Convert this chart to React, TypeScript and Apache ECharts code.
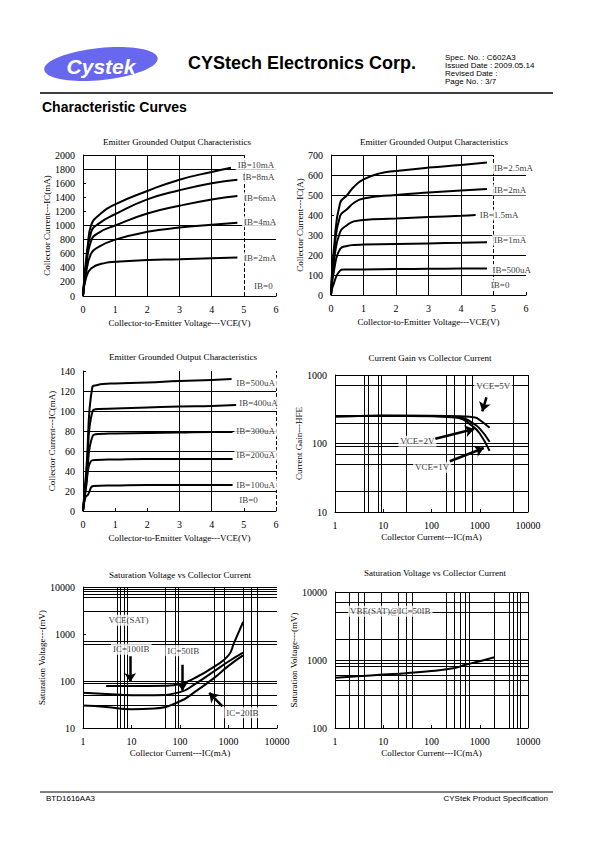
import React, { useEffect, useRef } from "react";
import * as echarts from "echarts";

const SERIF = "'Liberation Serif', 'Times New Roman', serif";
const SANS = "'Liberation Sans', Arial, sans-serif";

// ---------- Chart 1: IC(mA) vs VCE, IB = 2..10 mA ----------
const c1IB10 = [[0, 0], [0.05, 300], [0.15, 720], [0.25, 1000], [0.5, 1150], [1, 1300], [2, 1490], [3, 1650], [4, 1760], [4.6, 1820]];
const c1IB8 = [[0, 0], [0.08, 380], [0.25, 900], [0.5, 1030], [1, 1160], [2, 1370], [3, 1500], [4, 1600], [4.8, 1650]];
const c1IB6 = [[0, 0], [0.08, 330], [0.25, 780], [0.5, 900], [1, 1000], [2, 1170], [3, 1280], [4, 1370], [4.8, 1420]];
const c1IB4 = [[0, 0], [0.08, 280], [0.25, 600], [0.5, 700], [1, 800], [2, 910], [3, 970], [4, 1010], [4.8, 1040]];
const c1IB2 = [[0, 0], [0.08, 230], [0.25, 390], [0.7, 470], [1, 485], [2, 510], [3, 520], [4, 535], [4.8, 545]];
const c1Labels: [string, number, number][] = [
  ["IB=10mA", 4.73, 1858], ["IB=8mA", 4.88, 1693], ["IB=6mA", 4.93, 1395],
  ["IB=4mA", 4.93, 1054], ["IB=2mA", 4.93, 544], ["IB=0", 5.24, 142],
];

// ---------- Chart 2: IC vs VCE, IB = 0.5..2.5 mA ----------
const c2IB25 = [[0, 0], [0.1, 250], [0.28, 460], [0.5, 500], [0.7, 540], [1, 578], [1.5, 608], [2, 620], [3, 637], [4, 650], [4.8, 662]];
const c2IB20 = [[0, 0], [0.1, 220], [0.28, 395], [0.5, 430], [0.7, 460], [1, 483], [2, 500], [3, 512], [4, 522], [4.8, 530]];
const c2IB15 = [[0, 0], [0.1, 180], [0.28, 315], [0.5, 350], [0.7, 368], [1, 375], [2, 382], [3, 390], [4, 396], [4.45, 400]];
const c2IB10 = [[0, 0], [0.1, 130], [0.28, 230], [0.5, 245], [0.7, 250], [1, 252], [2, 255], [3, 258], [4, 261], [4.8, 264]];
const c2IB05 = [[0, 0], [0.05, 40], [0.28, 122], [0.4, 127], [1, 128], [2, 130], [3, 131], [4, 132], [4.8, 133]];
const c2Labels: [string, number, number][] = [
  ["IB=2.5mA", 4.94, 633], ["IB=2mA", 4.94, 525], ["IB=1.5mA", 4.5, 400],
  ["IB=1mA", 4.94, 275], ["IB=500uA", 4.89, 127], ["IB=0", 4.84, 50],
];

// ---------- Chart 3: IC(mA) vs VCE, IB = 100..500 uA ----------
const c3IB500 = [[0, 0], [0.1, 40], [0.29, 124], [0.45, 126], [0.62, 127], [1, 127.5], [2, 128.5], [3, 130], [4, 131], [4.62, 132]];
const c3IB400 = [[0, 0], [0.1, 35], [0.3, 100], [0.5, 102], [1, 102.5], [2, 103.5], [3, 104.5], [4, 105], [4.76, 106]];
const c3IB300 = [[0, 0], [0.1, 28], [0.3, 75], [0.5, 77], [1, 77.5], [2, 78], [3, 78.5], [4, 79], [4.65, 79]];
const c3IB200 = [[0, 0], [0.08, 20], [0.25, 50], [0.4, 51], [1, 51.5], [2, 52], [3, 52], [4, 52], [4.65, 52]];
const c3IB100 = [[0, 0], [0.08, 14], [0.15, 16], [0.33, 25], [1, 25.5], [2, 26], [3, 26], [4, 26], [4.65, 26]];
const c3Labels: [string, number, number][] = [
  ["IB=500uA", 4.69, 128], ["IB=400uA", 4.78, 108], ["IB=300uA", 4.69, 80],
  ["IB=200uA", 4.69, 56], ["IB=100uA", 4.69, 26.5], ["IB=0", 4.78, 11],
];

// ---------- Chart 4: hFE vs IC ----------
const c4VCE5 = [[1, 250], [10, 255], [100, 255], [400, 250], [800, 240], [1000, 220], [1600, 170]];
const c4VCE2 = [[1, 250], [10, 255], [100, 253], [400, 240], [700, 200], [1000, 165], [1600, 106]];
const c4VCE1 = [[1, 248], [10, 255], [100, 250], [350, 238], [700, 180], [1000, 140], [1600, 78]];
const c4Labels: [string, number, number][] = [["VCE=5V", 1900, 700], ["VCE=2V", 51, 108], ["VCE=1V", 103, 45]];
const c4Arrows = [
  [[1377, 472], [1128, 295]],
  [[120, 117], [764, 163]],
  [[240, 55], [1216, 86]],
];

// ---------- Chart 5: VCE(SAT) vs IC ----------
const c5IC100 = [[3, 78], [10, 78], [50, 79], [100, 86], [200, 115], [500, 200], [1000, 350], [1300, 650], [2000, 1800]];
const c5IC50 = [[1, 56], [3, 53], [10, 50], [30, 50], [100, 58], [200, 85], [500, 160], [1000, 260], [2000, 400]];
const c5IC20 = [[1, 30], [3, 28], [10, 25], [30, 26], [100, 37], [200, 58], [500, 115], [1000, 210], [2000, 350]];
const c5Labels: [string, number, number][] = [["VCE(SAT)", 8.7, 1970], ["IC=100IB", 9.9, 472], ["IC=50IB", 117, 440], ["IC=20IB", 1930, 21]];
const c5Arrows = [
  [[9.4, 335], [9.4, 95]],
  [[112, 222], [112, 62]],
  [[750, 29], [400, 56]],
];

// ---------- Chart 6: VBE(SAT) vs IC ----------
const c6VBE = [[1, 550], [3, 575], [10, 610], [30, 640], [100, 690], [300, 760], [500, 850], [1000, 960], [2000, 1100]];
const c6Labels: [string, number, number][] = [["VBE(SAT)@IC=50IB", 14, 5200]];

// ---------- grid lines (values) ----------
const c1GridX = [1, 2, 3, 4];
const c1GridY = [800, 1000, 1800];
const c2GridX = [1, 2, 3, 4];
const c2GridY = [100, 200, 300, 500, 600];
const c3GridX = [3, 4];
const c3GridY = [20, 40, 60, 80, 100, 120];
const c4GridX = [4, 5, 8, 9, 30, 200, 300, 500, 700, 5000, 10000];
const c4GridY = [20, 50, 70, 90, 100, 200, 700, 1000];
const c5GridX = [5, 6, 7, 8, 50, 80, 90, 500, 800, 2000, 3000, 4000];
const c5GridY = [30, 50, 90, 100, 600, 700, 3000, 6000, 7000, 8000, 9000, 10000];
const c6GridX = [2, 3, 4, 9, 20, 30, 40, 200, 300, 400, 500, 600, 2000, 4000, 5000, 6000, 7000, 10000];
const c6GridY = [300, 500, 600, 800, 900, 1000, 2000, 5000, 7000, 10000];

const grids = [
  { left: 83, top: 155, width: 193, height: 141 },
  { left: 331, top: 155, width: 195, height: 140 },
  { left: 83, top: 371, width: 193, height: 140 },
  { left: 335, top: 375, width: 193, height: 137 },
  { left: 83, top: 587, width: 194, height: 141 },
  { left: 335, top: 592, width: 193, height: 136 },
];

const titles = [
  ["Emitter Grounded Output Characteristics", 177, 142],
  ["Emitter Grounded Output Characteristics", 434, 142],
  ["Emitter Grounded Output Characteristics", 183, 357],
  ["Current Gain vs Collector Current", 430, 358],
  ["Saturation Voltage vs Collector Current", 180, 575],
  ["Saturation Voltage vs Collector Current", 435, 573],
];

const txt = { color: "#000", fontFamily: SERIF };

function linX(i: number, name: string) {
  return {
    type: "value", gridIndex: i, min: 0, max: 6, interval: 1,
    name, nameLocation: "middle", nameGap: 22,
    nameTextStyle: { ...txt, fontSize: 9 },
    axisLine: { show: true, onZero: false, lineStyle: { color: "#000", width: 1 } },
    axisTick: { show: true, inside: true, length: 3, lineStyle: { color: "#000" } },
    axisLabel: { ...txt, fontSize: 10, margin: 8, formatter: (v: number) => String(v) },
    splitLine: { show: false },
  };
}
function linY(i: number, max: number, interval: number, name: string, gap: number) {
  return {
    type: "value", gridIndex: i, min: 0, max, interval,
    name, nameLocation: "middle", nameGap: gap,
    nameTextStyle: { ...txt, fontSize: 9 },
    axisLine: { show: true, onZero: false, lineStyle: { color: "#000", width: 1 } },
    axisTick: { show: true, inside: true, length: 3, lineStyle: { color: "#000" } },
    axisLabel: { ...txt, fontSize: 10, margin: 8, formatter: (v: number) => String(v) },
    splitLine: { show: false },
  };
}
function logAxis(i: number, min: number, max: number, name: string, gap: number) {
  return {
    type: "log", logBase: 10, gridIndex: i, min, max,
    name, nameLocation: "middle", nameGap: gap,
    nameTextStyle: { ...txt, fontSize: 9 },
    axisLine: { show: true, onZero: false, lineStyle: { color: "#000", width: 1 } },
    axisTick: { show: true, inside: true, length: 3, lineStyle: { color: "#000" } },
    axisLabel: { ...txt, fontSize: 10, margin: 8, formatter: (v: number) => String(Math.round(v)) },
    splitLine: { show: false },
    minorTick: { show: false },
  };
}

function gridLines(xs: number[], ys: number[], extra: any[] = []) {
  return {
    silent: true, symbol: ["none", "none"], label: { show: false },
    lineStyle: { color: "#000", width: 1, type: "solid" },
    emphasis: { disabled: true },
    animation: false,
    data: [...xs.map((v) => ({ xAxis: v })), ...ys.map((v) => ({ yAxis: v })), ...extra],
  };
}

function curve(i: number, data: number[][], markLine?: any) {
  const s: any = {
    type: "line", xAxisIndex: i, yAxisIndex: i, data, symbol: "none", showSymbol: false,
    smooth: 0.5, silent: true, z: 3,
    lineStyle: { color: "#000", width: 2 },
  };
  if (markLine) s.markLine = markLine;
  return s;
}

function labels(i: number, items: [string, number, number][], pos: string) {
  return {
    type: "scatter", xAxisIndex: i, yAxisIndex: i, symbolSize: 1, silent: true, z: 5,
    itemStyle: { color: "rgba(0,0,0,0)" },
    data: items.map(([t, x, y]) => ({ value: [x, y], name: t })),
    label: {
      show: true, position: pos, distance: 0, formatter: "{b}",
      ...txt, fontSize: 9, backgroundColor: "#fff", padding: [1, 2],
    },
  };
}

function arrows(i: number, items: number[][][]) {
  return {
    type: "lines", coordinateSystem: "cartesian2d", xAxisIndex: i, yAxisIndex: i,
    symbol: ["none", "arrow"], symbolSize: 9, silent: true, z: 6,
    lineStyle: { color: "#000", width: 2.5, opacity: 1 },
    itemStyle: { color: "#000" },
    data: items.map((c) => ({ coords: c })),
  };
}

function buildOption(): any {
  const graphic: any[] = [
    { type: "ellipse", x: 101, y: 64, rotation: 0.1, shape: { cx: 0, cy: 0, rx: 57, ry: 16 }, style: { fill: "#6868ee" } },
    { type: "text", x: 101, y: 66, style: { text: "Cystek", fill: "#fff", font: `italic 900 21px ${SANS}`, textAlign: "center", textVerticalAlign: "middle" } },
    { type: "text", x: 188, y: 63, style: { text: "CYStech Electronics Corp.", fill: "#000", font: `bold 18px ${SANS}`, textAlign: "left", textVerticalAlign: "middle" } },
    { type: "text", x: 445, y: 57, style: { text: "Spec. No. : C602A3", fill: "#000", font: `8px ${SANS}`, textAlign: "left", textVerticalAlign: "middle" } },
    { type: "text", x: 445, y: 65, style: { text: "Issued Date : 2009.05.14", fill: "#000", font: `8px ${SANS}`, textAlign: "left", textVerticalAlign: "middle" } },
    { type: "text", x: 445, y: 73, style: { text: "Revised Date :", fill: "#000", font: `8px ${SANS}`, textAlign: "left", textVerticalAlign: "middle" } },
    { type: "text", x: 445, y: 81, style: { text: "Page No. : 3/7", fill: "#000", font: `8px ${SANS}`, textAlign: "left", textVerticalAlign: "middle" } },
    { type: "line", shape: { x1: 40, y1: 93, x2: 553, y2: 93 }, style: { stroke: "#000", lineWidth: 1.5 } },
    { type: "text", x: 42, y: 107, style: { text: "Characteristic Curves", fill: "#000", font: `bold 14px ${SANS}`, textAlign: "left", textVerticalAlign: "middle" } },
    { type: "line", shape: { x1: 40, y1: 792, x2: 553, y2: 792 }, style: { stroke: "#000", lineWidth: 1.2 } },
    { type: "text", x: 46, y: 798, style: { text: "BTD1616AA3", fill: "#000", font: `8px ${SANS}`, textAlign: "left", textVerticalAlign: "middle" } },
    { type: "text", x: 548, y: 798, style: { text: "CYStek Product Specification", fill: "#000", font: `8px ${SANS}`, textAlign: "right", textVerticalAlign: "middle" } },
    ...titles.map(([t, x, y]) => ({
      type: "text", x, y, style: { text: t, fill: "#000", font: `9px ${SERIF}`, textAlign: "center", textVerticalAlign: "middle" },
    })),
  ];

  const vceName = "Collector-to-Emitter Voltage---VCE(V)";
  const icName = "Collector Current---IC(mA)";

  return {
    animation: false,
    backgroundColor: "#fff",
    graphic,
    grid: grids.map((g) => ({ ...g, containLabel: false })),
    xAxis: [
      linX(0, vceName),
      linX(1, vceName),
      linX(2, vceName),
      logAxis(3, 1, 10000, icName, 20),
      logAxis(4, 1, 10000, icName, 20),
      logAxis(5, 1, 10000, icName, 20),
    ],
    yAxis: [
      linY(0, 2000, 200, "Collector Current---IC(mA)", 24),
      linY(1, 700, 100, "Collector Current---IC(A)", 24),
      linY(2, 140, 20, "Collector Current---IC(mA)", 24),
      logAxis(3, 10, 1000, "Current Gain---HFE", 28),
      logAxis(4, 10, 10000, "Saturation Voltage---(mV)", 26),
      logAxis(5, 100, 10000, "Saturation Voltage---(mV)", 28),
    ],
    series: [
      curve(0, c1IB10, gridLines(c1GridX, c1GridY, [
        { xAxis: 5, lineStyle: { type: "dashed" } },
        [{ coord: [0, 2000] }, { coord: [5, 2000] }],
      ])),
      curve(0, c1IB8), curve(0, c1IB6), curve(0, c1IB4), curve(0, c1IB2),
      labels(0, c1Labels, "right"),

      curve(1, c2IB25, gridLines(c2GridX, c2GridY, [
        { xAxis: 5, lineStyle: { type: "dashed" } },
        [{ coord: [0, 700] }, { coord: [5, 700] }],
      ])),
      curve(1, c2IB20), curve(1, c2IB15), curve(1, c2IB10), curve(1, c2IB05),
      labels(1, c2Labels, "right"),

      curve(2, c3IB500, gridLines(c3GridX, c3GridY, [
        { xAxis: 6, lineStyle: { type: "dashed" } },
      ])),
      curve(2, c3IB400), curve(2, c3IB300), curve(2, c3IB200), curve(2, c3IB100),
      labels(2, c3Labels, "right"),

      curve(3, c4VCE5, gridLines(c4GridX, c4GridY)),
      curve(3, c4VCE2), curve(3, c4VCE1),
      labels(3, c4Labels, "inside"),
      arrows(3, c4Arrows),

      curve(4, c5IC100, gridLines(c5GridX, c5GridY)),
      curve(4, c5IC50), curve(4, c5IC20),
      labels(4, c5Labels, "inside"),
      arrows(4, c5Arrows),

      curve(5, c6VBE, gridLines(c6GridX, c6GridY)),
      labels(5, c6Labels, "inside"),
    ],
  };
}

export default function App() {
  const ref = useRef<HTMLDivElement>(null);
  useEffect(() => {
    const chart = echarts.init(ref.current!, null, { renderer: "svg" });
    chart.setOption(buildOption());
    return () => chart.dispose();
  }, []);
  return (
    <div
      ref={ref}
      style={{ position: "absolute", left: 0, top: 0, width: 595, height: 842, background: "#fff" }}
    />
  );
}
